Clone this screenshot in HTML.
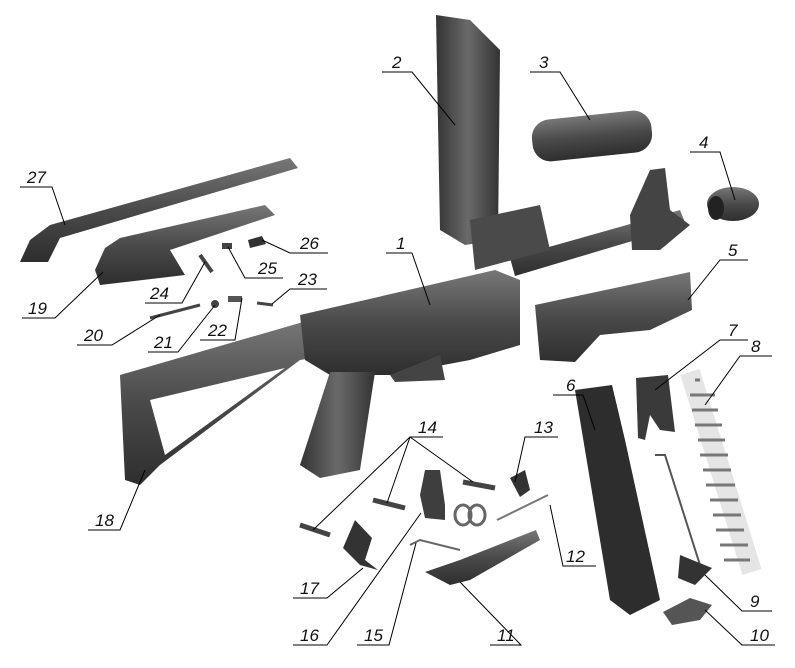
<!DOCTYPE html>
<html><head><meta charset="utf-8"><style>
html,body{margin:0;padding:0;background:#fff;}
svg{display:block}
text{font-family:"Liberation Sans",sans-serif;font-style:italic;font-size:17px;fill:#111}
.l{stroke:#000;stroke-width:1;fill:none}
</style></head><body>
<svg width="795" height="668" viewBox="0 0 795 668" xmlns="http://www.w3.org/2000/svg">
<defs>
<linearGradient id="g1" x1="0" y1="0" x2="0" y2="1"><stop offset="0" stop-color="#777"/><stop offset=".5" stop-color="#4a4a4a"/><stop offset="1" stop-color="#2e2e2e"/></linearGradient>
<linearGradient id="g2" x1="0" y1="0" x2="1" y2="0"><stop offset="0" stop-color="#333"/><stop offset=".5" stop-color="#6a6a6a"/><stop offset="1" stop-color="#333"/></linearGradient>
</defs>
<!-- 27 recoil rod -->
<path d="M30 240 L50 225 L290 158 L298 168 L60 238 L48 262 L20 262 Z" fill="url(#g1)"/>
<!-- 19 bolt carrier -->
<path d="M95 270 L105 248 L120 238 L265 205 L275 215 L170 250 L185 275 L100 285 Z" fill="url(#g1)"/>
<!-- small parts -->
<path d="M200 255 L212 272" stroke="#444" stroke-width="4"/>
<rect x="222" y="243" width="10" height="6" fill="#444"/>
<path d="M248 240 L262 236 L266 244 L250 248Z" fill="#333"/>
<path d="M150 318 L200 305" stroke="#444" stroke-width="3"/>
<circle cx="215" cy="304" r="4" fill="#444"/>
<rect x="228" y="296" width="14" height="6" fill="#555"/>
<path d="M257 303 L273 305" stroke="#444" stroke-width="3"/>
<!-- 2 dust cover -->
<path d="M436 15 L470 20 L500 50 L498 240 L465 245 L440 230 Z" fill="url(#g2)"/>
<!-- 3 -->
<rect x="532" y="115" width="120" height="42" rx="18" fill="url(#g1)" transform="rotate(-6 592 136)"/>
<!-- 4 -->
<ellipse cx="733" cy="204" rx="26" ry="17" fill="url(#g1)"/>
<ellipse cx="716" cy="208" rx="8" ry="12" fill="#222"/>
<!-- barrel & sights -->
<path d="M510 258 L680 210 L686 225 L515 276 Z" fill="url(#g1)"/>
<path d="M630 215 L650 170 L665 168 L670 210 L690 225 L660 250 L632 250 Z" fill="#444"/>
<path d="M470 220 L540 205 L550 250 L475 270 Z" fill="#4a4a4a"/>
<!-- 5 handguard -->
<path d="M535 305 L690 272 L692 310 L650 330 L600 335 L575 362 L540 360 Z" fill="url(#g1)"/>
<!-- stock -->
<path d="M120 375 L310 320 L330 335 L330 355 L300 360 L160 465 L140 485 L125 480 Z M150 400 L165 455 L285 368 Z" fill="url(#g1)" fill-rule="evenodd"/>
<!-- receiver -->
<path d="M300 315 L495 270 L520 280 L520 345 L470 360 L390 375 L330 375 L305 360 Z" fill="url(#g1)"/>
<path d="M390 375 L440 355 L445 380 L395 382Z" fill="#444"/>
<!-- grip -->
<path d="M330 372 L375 372 L360 470 L320 478 L300 465 Z" fill="url(#g2)"/>
<!-- 6 magazine -->
<path d="M575 390 L612 385 L625 440 L660 600 L630 615 L610 600 L585 450 Z" fill="#2d2d2d"/>
<!-- 7 -->
<path d="M636 378 L668 375 L675 432 L660 430 L650 415 L645 440 L638 438 Z" fill="#3a3a3a"/>
<!-- 8 spring -->
<path d="M690 372 L752 572" stroke="#999" stroke-width="20" fill="none" opacity=".25"/>
<path d="M695 380 L700 380 M690 395 L715 395 M692 410 L718 410 M695 425 L722 425 M698 440 L725 440 M700 455 L728 455 M703 470 L731 470 M706 485 L735 485 M710 500 L738 500 M713 515 L741 515 M716 530 L744 530 M720 545 L748 545 M724 560 L750 560" stroke="#777" stroke-width="3" fill="none"/>
<!-- 9 -->
<path d="M655 455 L665 455 L700 565" stroke="#555" stroke-width="2" fill="none"/>
<path d="M680 555 L712 568 L695 585 L678 578 Z" fill="#333"/>
<!-- 10 -->
<path d="M663 612 L690 598 L712 605 L700 620 L672 625 Z" fill="#555"/>
<!-- trigger group parts -->
<path d="M300 525 L330 535" stroke="#444" stroke-width="5"/>
<path d="M373 500 L405 508" stroke="#444" stroke-width="5"/>
<path d="M463 482 L495 488" stroke="#444" stroke-width="5"/>
<path d="M343 548 L355 520 L372 538 L365 560 L378 570 L360 565 Z" fill="#333"/>
<path d="M425 470 L440 470 L445 505 L445 520 L425 518 L420 495 Z" fill="#3e3e3e"/>
<path d="M455 515 m0 0 a8 10 0 1 0 16 0 a8 10 0 1 0 -16 0 m14 0 a8 10 0 1 0 16 0 a8 10 0 1 0 -16 0" stroke="#666" stroke-width="3" fill="none"/>
<path d="M410 545 L420 540 L460 550" stroke="#666" stroke-width="2" fill="none"/>
<path d="M497 520 L548 495" stroke="#777" stroke-width="2"/>
<path d="M510 478 L525 470 L530 490 L520 497 Z" fill="#333"/>
<path d="M425 572 L450 585 L470 580 L540 540 L536 530 L460 560 Z" fill="url(#g1)"/>
<!-- leaders -->
<g class="l">
<path d="M386 253 H412 L430 305"/>
<path d="M382 72 H412 L455 125"/>
<path d="M530 72 H560 L590 120"/>
<path d="M690 152 H720 L735 200"/>
<path d="M748 260 H720 L688 300"/>
<path d="M553 395 H583 L595 430"/>
<path d="M748 340 H720 L655 390"/>
<path d="M772 356 H740 L705 405"/>
<path d="M772 611 H742 L705 575"/>
<path d="M775 645 H742 L705 610"/>
<path d="M490 645 H521 L460 582"/>
<path d="M596 566 H563 L550 505"/>
<path d="M558 437 H525 L515 482"/>
<path d="M443 437 H410 L313 530 M410 437 L387 503 M410 437 L473 482"/>
<path d="M357 645 H389 L416 543"/>
<path d="M293 645 H327 L421 513"/>
<path d="M293 598 H327 L363 568"/>
<path d="M88 530 H120 L145 470"/>
<path d="M22 318 H55 L103 272"/>
<path d="M77 345 H112 L160 315"/>
<path d="M148 352 H178 L215 305"/>
<path d="M200 340 H235 L242 298"/>
<path d="M327 289 H290 L272 304"/>
<path d="M145 303 H182 L205 262"/>
<path d="M283 278 H245 L228 247"/>
<path d="M328 253 H290 L262 240"/>
<path d="M20 187 H52 L65 225"/>
</g>
<g>
<text x="396" y="249">1</text><text x="392" y="68">2</text><text x="539" y="68">3</text>
<text x="699" y="148">4</text><text x="728" y="256">5</text><text x="566" y="391">6</text>
<text x="728" y="336">7</text><text x="751" y="352">8</text><text x="750" y="607">9</text>
<text x="750" y="641">10</text><text x="497" y="641">11</text><text x="566" y="562">12</text>
<text x="534" y="433">13</text><text x="418" y="433">14</text><text x="364" y="641">15</text>
<text x="300" y="641">16</text><text x="300" y="594">17</text><text x="95" y="526">18</text>
<text x="28" y="314">19</text><text x="84" y="341">20</text><text x="154" y="348">21</text>
<text x="208" y="336">22</text><text x="298" y="285">23</text><text x="150" y="299">24</text>
<text x="258" y="274">25</text><text x="300" y="249">26</text><text x="27" y="183">27</text>
</g>
</svg>
</body></html>
